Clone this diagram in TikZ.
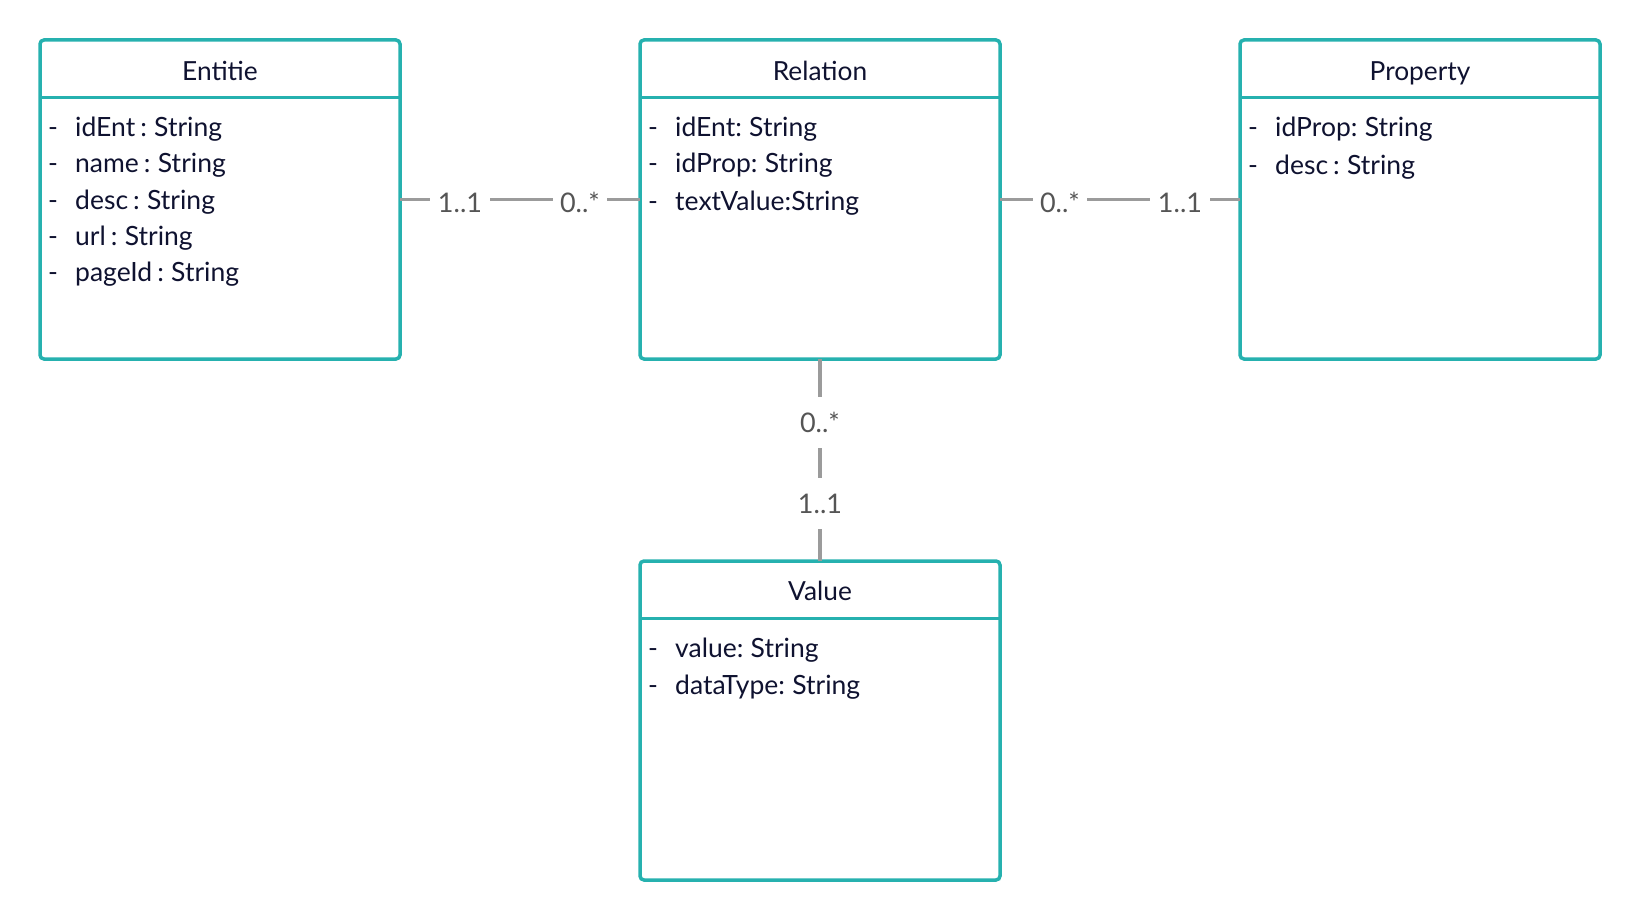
\documentclass[tikz,border=0pt]{standalone}
\usepackage{fontspec}
\setmainfont{Lato}
\definecolor{boxteal}{HTML}{26B1AF}
\definecolor{conngray}{HTML}{9B9B9B}
\definecolor{labgray}{HTML}{555555}
\definecolor{txtcol}{HTML}{0F1230}
\newlength{\attrspace}
\newcommand{\attrdash}{\setlength{\attrspace}{0.19em}\spaceskip=\attrspace\relax\makebox[27pt][l]{-}}
\begin{document}
\begin{tikzpicture}[x=1pt,y=-1pt,
  classbox/.style={draw=boxteal, line width=3.5pt, rounded corners=4pt,
    minimum width=360pt, minimum height=319pt, inner sep=0pt, outer sep=0pt},
  sepline/.style={draw=boxteal, line width=3.5pt},
  title/.style={anchor=base, text=txtcol, font=\fontsize{26.3}{26.3}\selectfont, inner sep=0pt},
  attr/.style={anchor=base west, text=txtcol, inner sep=0pt,
    font=\fontsize{26.5}{26.5}\selectfont},
  conn/.style={draw=conngray, line width=3.5pt},
  hlab/.style={fill=white, text=labgray, font=\fontsize{27}{27}\selectfont,
    inner xsep=7.5pt, inner ysep=2pt, text height=19.5pt, text depth=0pt, yshift=-3.5pt},
  vlab/.style={fill=white, text=labgray, font=\fontsize{27}{27}\selectfont,
    inner xsep=4pt, inner ysep=15.75pt, text height=19.5pt, text depth=0pt}
]
\useasboundingbox (0,0) rectangle (1640,920);

% boxes
\node[classbox] (ent) at (220,199.5) {};
\node[classbox] (rel) at (820,199.5) {};
\node[classbox] (prop) at (1420,199.5) {};
\node[classbox] (val) at (820,720.5) {};

% header separators
\foreach \b in {ent,rel,prop,val}
  \draw[sepline] ([yshift=-57.5pt]\b.north west) -- ([yshift=-57.5pt]\b.north east);

% titles
\node[title] (entT) at (220,80.5) {Entitie};
\node[title] (relT) at (820,80.5) {Relation};
\node[title] (propT) at (1420,80.5) {Property};
\node[title] (valT) at (820,600.5) {Value};

% Entitie attributes
\node[attr] (ent1) at (48,136.5) {\attrdash idEnt : String};
\node[attr] (ent2) at (48,172.8) {\attrdash name : String};
\node[attr] (ent3) at (48,209.1) {\attrdash desc : String};
\node[attr] (ent4) at (48,245.4) {\attrdash url : String};
\node[attr] (ent5) at (48,281.8) {\attrdash pageId : String};

% Relation attributes
\node[attr] (rel1) at (648,136.5) {\attrdash idEnt: String};
\node[attr] (rel2) at (648,172.5) {\attrdash idProp: String};
\node[attr] (rel3) at (648,211) {\attrdash textValue:String};

% Property attributes
\node[attr] (prop1) at (1248,136.5) {\attrdash idProp: String};
\node[attr] (prop2) at (1248,175) {\attrdash desc : String};

% Value attributes
\node[attr] (val1) at (648,657.5) {\attrdash value: String};
\node[attr] (val2) at (648,694) {\attrdash dataType: String};

% connectors
\draw[conn] (ent) -- node[hlab,pos=0.25] (l1) {1..1} node[hlab,pos=0.75] (l2) {0..*} (rel);
\draw[conn] (rel) -- node[hlab,pos=0.25] (l3) {0..*} node[hlab,pos=0.75] (l4) {1..1} (prop);
\draw[conn] (rel) -- node[vlab,pos=0.315] (l5) {0..*} node[vlab,pos=0.715] (l6) {1..1} (val);
\end{tikzpicture}
\end{document}
